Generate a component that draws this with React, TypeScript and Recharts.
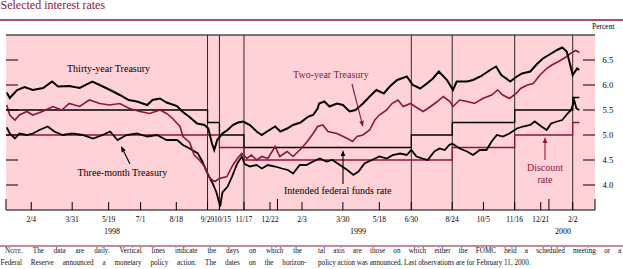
import React from 'react';
import { LineChart, Line, XAxis, YAxis, CartesianGrid, ReferenceLine } from 'recharts';

// ---- data (dates are trading days, values in percent) ----
const thirtyYear: [string, number][] = [
  ['1998-01-02', 5.85], ['1998-01-06', 5.74], ['1998-01-16', 5.9], ['1998-01-26', 5.96], ['1998-02-06', 5.9],
  ['1998-02-20', 5.94], ['1998-03-04', 6.07], ['1998-03-12', 5.97], ['1998-03-27', 5.98], ['1998-04-10', 5.94],
  ['1998-04-27', 6.07], ['1998-05-07', 6.0], ['1998-05-21', 5.9], ['1998-06-03', 5.8], ['1998-06-15', 5.7],
  ['1998-06-26', 5.67], ['1998-07-10', 5.6], ['1998-07-17', 5.7], ['1998-07-27', 5.73], ['1998-08-05', 5.65],
  ['1998-08-19', 5.58], ['1998-08-26', 5.47], ['1998-09-04', 5.37], ['1998-09-15', 5.23], ['1998-09-25', 5.2],
  ['1998-09-30', 5.13], ['1998-10-05', 4.83], ['1998-10-08', 4.7], ['1998-10-12', 4.9], ['1998-10-19', 5.03],
  ['1998-10-26', 5.1], ['1998-11-02', 5.2], ['1998-11-09', 5.25], ['1998-11-16', 5.27], ['1998-11-25', 5.2],
  ['1998-12-04', 5.07], ['1998-12-11', 5.0], ['1998-12-18', 5.07], ['1998-12-29', 5.17], ['1999-01-05', 5.07],
  ['1999-01-14', 5.13], ['1999-01-22', 5.2], ['1999-02-01', 5.25], ['1999-02-08', 5.33], ['1999-02-12', 5.37],
  ['1999-02-18', 5.4], ['1999-02-24', 5.53], ['1999-02-26', 5.63], ['1999-03-05', 5.67], ['1999-03-12', 5.57],
  ['1999-03-22', 5.63], ['1999-03-30', 5.6], ['1999-04-08', 5.47], ['1999-04-16', 5.5], ['1999-04-26', 5.63],
  ['1999-05-05', 5.77], ['1999-05-14', 5.9], ['1999-05-24', 5.83], ['1999-06-01', 5.97], ['1999-06-11', 6.1],
  ['1999-06-24', 6.17], ['1999-07-02', 6.0], ['1999-07-12', 5.93], ['1999-07-21', 6.03], ['1999-07-29', 6.13],
  ['1999-08-06', 6.27], ['1999-08-17', 6.1], ['1999-08-25', 5.9], ['1999-08-30', 6.07], ['1999-09-13', 6.07],
  ['1999-09-21', 6.1], ['1999-10-01', 6.17], ['1999-10-14', 6.3], ['1999-10-22', 6.37], ['1999-10-29', 6.2],
  ['1999-11-10', 6.07], ['1999-11-19', 6.17], ['1999-11-26', 6.23], ['1999-12-07', 6.27], ['1999-12-16', 6.42],
  ['1999-12-24', 6.53], ['2000-01-03', 6.62], ['2000-01-12', 6.7], ['2000-01-19', 6.75], ['2000-01-25', 6.67],
  ['2000-01-28', 6.5], ['2000-02-02', 6.2], ['2000-02-08', 6.33], ['2000-02-11', 6.3],
];

const twoYear: [string, number][] = [
  ['1998-01-02', 5.6], ['1998-01-06', 5.4], ['1998-01-13', 5.3], ['1998-01-19', 5.4], ['1998-01-29', 5.47],
  ['1998-02-06', 5.4], ['1998-02-19', 5.47], ['1998-03-05', 5.57], ['1998-03-17', 5.5], ['1998-03-27', 5.63],
  ['1998-04-10', 5.57], ['1998-04-23', 5.7], ['1998-05-07', 5.63], ['1998-05-20', 5.6], ['1998-06-03', 5.63],
  ['1998-06-16', 5.53], ['1998-06-30', 5.47], ['1998-07-13', 5.43], ['1998-07-27', 5.5], ['1998-08-05', 5.43],
  ['1998-08-13', 5.33], ['1998-08-23', 5.17], ['1998-08-27', 4.97], ['1998-09-05', 4.85], ['1998-09-11', 4.6],
  ['1998-09-18', 4.5], ['1998-09-25', 4.37], ['1998-10-02', 4.13], ['1998-10-09', 4.07], ['1998-10-15', 4.13],
  ['1998-10-25', 4.17], ['1998-11-01', 4.37], ['1998-11-08', 4.53], ['1998-11-14', 4.63], ['1998-11-21', 4.53],
  ['1998-11-27', 4.6], ['1998-12-04', 4.5], ['1998-12-11', 4.57], ['1998-12-19', 4.53], ['1998-12-29', 4.77],
  ['1999-01-04', 4.57], ['1999-01-14', 4.67], ['1999-01-22', 4.57], ['1999-01-31', 4.7], ['1999-02-09', 4.85],
  ['1999-02-18', 5.03], ['1999-02-24', 5.17], ['1999-03-03', 5.2], ['1999-03-10', 5.07], ['1999-03-22', 5.03],
  ['1999-04-05', 4.93], ['1999-04-12', 4.87], ['1999-04-18', 4.97], ['1999-04-26', 5.0], ['1999-05-05', 5.1],
  ['1999-05-12', 5.3], ['1999-05-18', 5.4], ['1999-05-28', 5.5], ['1999-06-04', 5.63], ['1999-06-12', 5.7],
  ['1999-06-19', 5.57], ['1999-06-29', 5.63], ['1999-07-05', 5.57], ['1999-07-16', 5.47], ['1999-07-26', 5.57],
  ['1999-08-04', 5.67], ['1999-08-12', 5.77], ['1999-08-21', 5.67], ['1999-08-25', 5.57], ['1999-09-03', 5.7],
  ['1999-09-13', 5.67], ['1999-09-23', 5.63], ['1999-10-04', 5.73], ['1999-10-16', 5.8], ['1999-10-24', 5.9],
  ['1999-10-31', 5.8], ['1999-11-09', 5.73], ['1999-11-18', 5.83], ['1999-11-24', 5.93], ['1999-12-03', 6.0],
  ['1999-12-11', 6.03], ['1999-12-20', 6.2], ['1999-12-29', 6.33], ['2000-01-05', 6.4], ['2000-01-14', 6.47],
  ['2000-01-23', 6.55], ['2000-01-30', 6.63], ['2000-02-06', 6.69], ['2000-02-11', 6.65],
];

const threeMonth: [string, number][] = [
  ['1998-01-02', 5.15], ['1998-01-06', 5.03], ['1998-01-13', 4.93], ['1998-01-19', 5.03], ['1998-01-29', 5.0],
  ['1998-02-06', 5.03], ['1998-02-15', 5.1], ['1998-02-26', 5.17], ['1998-03-07', 5.07], ['1998-03-18', 5.0],
  ['1998-03-31', 5.03], ['1998-04-14', 5.0], ['1998-04-28', 4.93], ['1998-05-11', 5.0], ['1998-05-21', 5.07],
  ['1998-05-31', 4.9], ['1998-06-12', 5.0], ['1998-06-26', 5.03], ['1998-07-10', 4.97], ['1998-07-23', 5.0],
  ['1998-08-05', 4.9], ['1998-08-19', 4.9], ['1998-08-27', 4.8], ['1998-09-05', 4.73], ['1998-09-16', 4.63],
  ['1998-09-22', 4.47], ['1998-09-29', 4.23], ['1998-10-06', 4.03], ['1998-10-11', 3.85], ['1998-10-16', 3.57],
  ['1998-10-19', 3.85], ['1998-10-26', 3.97], ['1998-11-01', 4.17], ['1998-11-08', 4.43], ['1998-11-14', 4.57],
  ['1998-11-18', 4.42], ['1998-11-25', 4.37], ['1998-12-04', 4.4], ['1998-12-11', 4.33], ['1998-12-19', 4.4],
  ['1998-12-29', 4.37], ['1999-01-07', 4.33], ['1999-01-15', 4.3], ['1999-01-22', 4.23], ['1999-01-31', 4.4],
  ['1999-02-09', 4.4], ['1999-02-18', 4.47], ['1999-02-27', 4.53], ['1999-03-08', 4.47], ['1999-03-16', 4.5],
  ['1999-03-26', 4.4], ['1999-04-05', 4.3], ['1999-04-13', 4.2], ['1999-04-20', 4.27], ['1999-04-28', 4.43],
  ['1999-05-08', 4.5], ['1999-05-18', 4.57], ['1999-05-28', 4.53], ['1999-06-05', 4.6], ['1999-06-15', 4.63],
  ['1999-06-24', 4.6], ['1999-06-30', 4.7], ['1999-07-07', 4.57], ['1999-07-15', 4.53], ['1999-07-22', 4.5],
  ['1999-07-31', 4.67], ['1999-08-07', 4.73], ['1999-08-14', 4.7], ['1999-08-20', 4.8], ['1999-08-24', 4.83],
  ['1999-09-03', 4.73], ['1999-09-13', 4.67], ['1999-09-21', 4.6], ['1999-09-30', 4.7], ['1999-10-09', 4.7],
  ['1999-10-16', 4.87], ['1999-10-23', 5.0], ['1999-10-31', 4.97], ['1999-11-09', 5.03], ['1999-11-19', 5.13],
  ['1999-11-27', 5.17], ['1999-12-07', 5.2], ['1999-12-13', 5.27], ['1999-12-22', 5.17], ['1999-12-29', 5.1],
  ['2000-01-04', 5.23], ['2000-01-12', 5.27], ['2000-01-19', 5.3], ['2000-01-26', 5.43], ['2000-01-31', 5.5],
  ['2000-02-04', 5.7], ['2000-02-07', 5.53], ['2000-02-11', 5.5],
];

// step series: value holds from the date until the next entry
const fedFunds: [string, number][] = [
  ['1998-01-01', 5.5], ['1998-09-29', 5.25], ['1998-10-15', 5.0], ['1998-11-17', 4.75],
  ['1999-06-30', 5.0], ['1999-08-24', 5.25], ['1999-11-16', 5.5], ['2000-02-02', 5.75], ['2000-02-11', 5.75],
];
const discountRate: [string, number][] = [
  ['1998-01-01', 5.0], ['1998-10-15', 4.75], ['1998-11-17', 4.5], ['1999-08-24', 4.75],
  ['1999-11-16', 5.0], ['2000-02-02', 5.25], ['2000-02-11', 5.25],
];

// days on which a policy action was announced (vertical lines)
const policyDates = ['1998-09-29', '1998-10-15', '1998-11-17', '1999-06-30', '1999-08-24', '1999-11-16', '2000-02-02'];
// FOMC meeting / action dates labelled on the axis
const fomcDates = [
  '1998-02-04', '1998-03-31', '1998-05-19', '1998-07-01', '1998-08-18', '1998-09-29', '1998-10-15', '1998-11-17',
  '1998-12-22', '1999-02-03', '1999-03-30', '1999-05-18', '1999-06-30', '1999-08-24', '1999-10-05', '1999-11-16',
  '1999-12-21', '2000-02-02',
];
const yearMarks = ['1998-01-01', '1999-01-01', '2000-01-01', '2000-03-03'];
const yTicks = [4.0, 4.5, 5.0, 5.5, 6.0, 6.5];

// ---- layout ----
const W = 623;
const H = 269;
const PLOT_LEFT = 6;
const PLOT_TOP = 35;
const PLOT_RIGHT = 595;
const PLOT_BOTTOM = 210;
const MAROON = '#8c1540';
const PINK = '#ffd2d7';
const FONT = '"Liberation Serif", "Times New Roman", serif';
const NOTE_SCALE = 0.83; // the note face is a slightly condensed serif
const labelNudge: Record<string, number> = { '1998-10-15': 3 };

const START = Date.UTC(1998, 0, 1);
const toDay = (s: string) => {
  const [y, m, d] = s.split('-').map(Number);
  return Math.round((Date.UTC(y, m - 1, d) - START) / 86400000);
};
const toPoints = (rows: [string, number][]) => rows.map(([d, v]) => ({ day: toDay(d), value: v }));

const END_DAY = toDay(yearMarks[yearMarks.length - 1]);
const yearDays = yearMarks.map(toDay);
const fomcDays = fomcDates.map(toDay);
const xTicks = [...yearDays, ...fomcDays].sort((a, b) => a - b);

const XTick = (props: any) => {
  const { x, y, payload } = props;
  const day = payload.value;
  const tall = yearDays.includes(day);
  const i = fomcDays.indexOf(day);
  let label = '';
  let dx = 0;
  if (i >= 0) {
    const [, m, d] = fomcDates[i].split('-').map(Number);
    label = `${m}/${d}`;
    dx = labelNudge[fomcDates[i]] || 0;
  }
  return (
    <g>
      <line x1={x} x2={x} y1={y} y2={y - (tall ? 11 : 8)} stroke="#000" strokeWidth={1} />
      {label && (
        <text x={x + dx} y={y + 12} textAnchor="middle" fontSize={7.5} fontFamily={FONT} fill="#000">
          {label}
        </text>
      )}
    </g>
  );
};

const YTick = (props: any) => {
  const { x, y, payload } = props;
  return (
    <g>
      <line x1={PLOT_LEFT} x2={PLOT_LEFT + 12} y1={y} y2={y} stroke="#000" strokeWidth={1} />
      <line x1={x - 12} x2={x} y1={y} y2={y} stroke="#000" strokeWidth={1} />
      <text x={x + 7.5} y={y + 3} fontSize={8.5} fontFamily={FONT} fill="#000">
        {Number(payload.value).toFixed(1)}
      </text>
    </g>
  );
};

const Arrow = ({ x1, y1, x2, y2, color }: { x1: number; y1: number; x2: number; y2: number; color: string }) => {
  const a = Math.atan2(y2 - y1, x2 - x1);
  const len = 6;
  const half = 2.3;
  const bx = x2 - len * Math.cos(a);
  const by = y2 - len * Math.sin(a);
  const px = -Math.sin(a) * half;
  const py = Math.cos(a) * half;
  return (
    <g>
      <line x1={x1} y1={y1} x2={bx} y2={by} stroke={color} strokeWidth={1.1} />
      <polygon points={`${x2},${y2} ${bx + px},${by + py} ${bx - px},${by - py}`} fill={color} />
    </g>
  );
};

// one line of the note; justified lines stretch their word gaps to the width
const NoteLine = ({ x, y, width, children }: { x: number; y: number; width?: number; children: React.ReactNode }) => {
  const ref = React.useRef<SVGTextElement>(null);
  const [ws, setWs] = React.useState(0);
  React.useLayoutEffect(() => {
    const el = ref.current;
    if (!el || !width) return;
    const natural = el.getComputedTextLength();
    const gaps = (el.textContent || '').split(' ').length - 1;
    if (gaps > 0) setWs((width / NOTE_SCALE - natural) / gaps);
  }, [width]);
  return (
    <g transform={`translate(${x},${y}) scale(${NOTE_SCALE},1)`}>
      <text ref={ref} x={0} y={0} fontSize={8.6} fontFamily={FONT} fill="#111" style={{ wordSpacing: ws }}>
        {children}
      </text>
    </g>
  );
};

export default function App() {
  return (
    <div style={{ position: 'absolute', left: 0, top: 0, width: W, height: H, background: '#fff' }}>
      <LineChart width={W} height={H} margin={{ top: PLOT_TOP, left: PLOT_LEFT, right: 0, bottom: 0 }}>
        <CartesianGrid horizontal={false} vertical={false} fill={PINK} stroke="none" />
        <XAxis
          type="number"
          dataKey="day"
          domain={[0, END_DAY]}
          allowDataOverflow
          ticks={xTicks}
          interval={0}
          height={H - PLOT_BOTTOM}
          tickSize={0}
          tickMargin={0}
          tickLine={false}
          axisLine={{ stroke: '#000', strokeWidth: 1.2 }}
          tick={(p: any) => <XTick {...p} />}
        />
        <YAxis
          orientation="right"
          type="number"
          domain={[3.5, 7]}
          allowDataOverflow
          ticks={yTicks}
          interval={0}
          width={W - PLOT_RIGHT}
          tickSize={0}
          tickMargin={0}
          tickLine={false}
          axisLine={false}
          tick={(p: any) => <YTick {...p} />}
        />
        <ReferenceLine y={7} stroke="#000" strokeWidth={1.2} />
        {policyDates.map((d) => (
          <ReferenceLine key={d} x={toDay(d)} stroke="#2a2a2a" strokeWidth={1} />
        ))}
        <Line data={toPoints(fedFunds)} dataKey="value" type="stepAfter" stroke="#000" strokeWidth={1.3} dot={false} isAnimationActive={false} />
        <Line data={toPoints(discountRate)} dataKey="value" type="stepAfter" stroke={MAROON} strokeWidth={1.3} dot={false} isAnimationActive={false} />
        <Line data={toPoints(threeMonth)} dataKey="value" type="linear" stroke="#000" strokeWidth={1.8} dot={false} isAnimationActive={false} />
        <Line data={toPoints(twoYear)} dataKey="value" type="linear" stroke={MAROON} strokeWidth={1.6} dot={false} isAnimationActive={false} />
        <Line data={toPoints(thirtyYear)} dataKey="value" type="linear" stroke="#000" strokeWidth={2} dot={false} isAnimationActive={false} />
      </LineChart>

      <svg width={W} height={H} style={{ position: 'absolute', left: 0, top: 0, pointerEvents: 'none' }}>
        <text x={0.5} y={9} fontSize={12} fontFamily={FONT} fill={MAROON}>Selected interest rates</text>
        <line x1={0} x2={W} y1={20} y2={20} stroke={MAROON} strokeWidth={1.4} />
        <text x={592} y={29} fontSize={7.5} fontFamily={FONT} fill="#000">Percent</text>

        <text x={67} y={71.5} fontSize={10} fontFamily={FONT} fill="#000">Thirty-year Treasury</text>
        <text x={293} y={77.5} fontSize={10} fontFamily={FONT} fill={MAROON}>Two-year Treasury</text>
        <Arrow x1={352} y1={84} x2={363} y2={127} color={MAROON} />
        <text x={77.5} y={176} fontSize={10} fontFamily={FONT} fill="#000">Three-month Treasury</text>
        <Arrow x1={130} y1={164} x2={121} y2={146} color="#000" />
        <text x={284} y={194} fontSize={10} fontFamily={FONT} fill="#000">Intended federal funds rate</text>
        <Arrow x1={343} y1={184} x2={343} y2={150} color="#000" />
        <text x={545} y={171} fontSize={10} fontFamily={FONT} fill={MAROON} textAnchor="middle">Discount</text>
        <text x={545} y={183} fontSize={10} fontFamily={FONT} fill={MAROON} textAnchor="middle">rate</text>
        <Arrow x1={545} y1={160} x2={545} y2={137} color={MAROON} />

        <text x={112} y={233.5} fontSize={8} fontFamily={FONT} textAnchor="middle">1998</text>
        <text x={358} y={233.5} fontSize={8} fontFamily={FONT} textAnchor="middle">1999</text>
        <text x={563} y={233.5} fontSize={8} fontFamily={FONT} textAnchor="middle">2000</text>
        <line x1={0} x2={W} y1={246} y2={246} stroke={MAROON} strokeWidth={1} />

        <NoteLine x={5} y={252.8} width={297}>
          N<tspan fontSize={6.9}>OTE</tspan>. The data are daily. Vertical lines indicate the days on which the
        </NoteLine>
        <NoteLine x={0.5} y={264.6} width={306}>
          Federal Reserve announced a monetary policy action. The dates on the horizon-
        </NoteLine>
        <NoteLine x={318} y={252.8} width={303.5}>
          tal axis are those on which either the FOMC held a scheduled meeting or a
        </NoteLine>
        <NoteLine x={318} y={264.6}>
          policy action was announced. Last observations are for February 11, 2000.
        </NoteLine>
      </svg>
    </div>
  );
}
